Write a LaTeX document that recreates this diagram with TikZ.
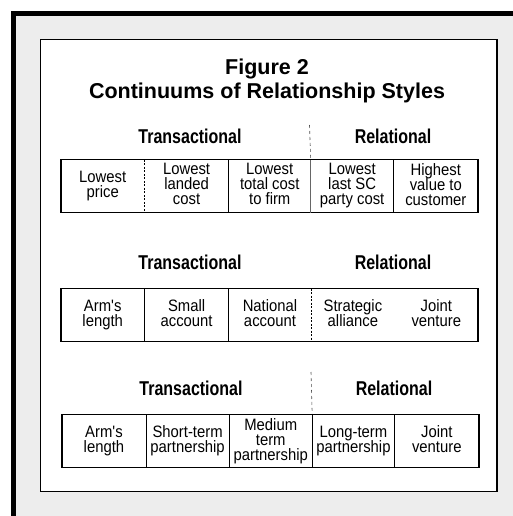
\documentclass[tikz,border=0pt]{standalone}
\usepackage{fontspec}
\setmainfont{Liberation Sans}
\newfontfamily\headfont[FakeStretch=0.8]{Liberation Sans}
\newfontfamily\cellfont[FakeStretch=0.9]{Liberation Sans}
% fixed line pitch and balanced top and bottom extents for every cell text
\newcommand{\celllines}{\lineskiplimit=-20pt\relax\lineskip=0pt\relax}
\newcommand{\celltop}{\rule{0pt}{15.8pt}}
\newcommand{\cellbot}{\rule[-4pt]{0pt}{4pt}}
\begin{document}
\begin{tikzpicture}[x=1pt,y=-1pt,
  cell/.style={inner sep=0pt,minimum height=52.5pt,align=center,
    font=\cellfont\fontsize{16.5}{15}\selectfont,
    execute at begin node=\celllines\celltop, execute at end node=\cellbot},
  headlbl/.style={inner sep=0pt,font=\headfont\bfseries\fontsize{20}{20}\selectfont},
  boxline/.style={line width=1.1pt},
  divline/.style={line width=0.7pt},
  dotdiv/.style={line width=0.6pt,dash pattern=on 2pt off 1.5pt},
  sepline/.style={line width=0.6pt,black!70,dash pattern=on 3pt off 3pt}]
\useasboundingbox (0,0) rectangle (513,516);

% stippled panel and the heavy outer frame
\fill[black!7] (13.5,13.5) rectangle (513,516);
\draw[line width=5pt] (13.5,516) -- (13.5,13.5) -- (513,13.5);
\draw[line width=1.4pt,fill=white] (40.5,39.5) rectangle (497,491.5);

% title
\node[align=center,inner sep=0pt,font=\bfseries\fontsize{21.5}{24}\selectfont]
  (title) at (267,81) {Figure 2\\Continuums of Relationship Styles};

% ---- first continuum: price to value ----
\node[headlbl] (t1) at (190,136) {Transactional};
\node[headlbl] (r1) at (393,136) {Relational};
\coordinate (s1) at (309.5,125);
\node[cell,minimum width=83pt,anchor=west] (a1) at (61,186.25) {Lowest\\price};
\node[cell,minimum width=84pt,anchor=west] (a2) at (a1.east) {Lowest\\landed\\cost};
\node[cell,minimum width=81.5pt,anchor=west] (a3) at (a2.east) {Lowest\\total cost\\to firm};
\node[cell,minimum width=82.5pt,anchor=west] (a4) at (a3.east) {Lowest\\last SC\\party cost};
\node[cell,minimum width=84pt,anchor=west] (a5) at (a4.east) {Highest\\value to\\customer};
\draw[sepline] (s1) -- (a3.north east);
\draw[boxline] (a1.north west) rectangle (a5.south east);
\draw[dotdiv] (a1.north east) -- (a1.south east);
\draw[divline] (a2.north east) -- (a2.south east);
\draw[divline,black!60] (a3.north east) -- (a3.south east);
\draw[divline] (a4.north east) -- (a4.south east);

% ---- second continuum: account types ----
\node[headlbl] (t2) at (190,262) {Transactional};
\node[headlbl] (r2) at (393,262) {Relational};
\node[cell,minimum width=83pt,anchor=west] (b1) at (61,315) {Arm's\\length};
\node[cell,minimum width=84pt,anchor=west] (b2) at (b1.east) {Small\\account};
\node[cell,minimum width=82pt,anchor=west] (b3) at (b2.east) {National\\account};
\node[cell,minimum width=83pt,anchor=west] (b4) at (b3.east) {Strategic\\alliance};
\node[cell,minimum width=83pt,anchor=west] (b5) at (b4.east) {Joint\\venture};
\draw[boxline] (b1.north west) rectangle (b5.south east);
\draw[divline] (b1.north east) -- (b1.south east);
\draw[divline] (b2.north east) -- (b2.south east);
\draw[dotdiv] (b3.north east) -- (b3.south east);

% ---- third continuum: partnership length ----
\node[headlbl] (t3) at (191,388) {Transactional};
\node[headlbl] (r3) at (394,388) {Relational};
\coordinate (s3) at (311,372);
\node[cell,minimum width=83.5pt,anchor=west] (c1) at (62,441.25) {Arm's\\length};
\node[cell,minimum width=83pt,anchor=west] (c2) at (c1.east) {Short-term\\partnership};
\node[cell,minimum width=82.5pt,anchor=west] (c3) at (c2.east) {Medium\\term\\partnership};
\node[cell,minimum width=82pt,anchor=west] (c4) at (c3.east) {Long-term\\partnership};
\node[cell,minimum width=84pt,anchor=west] (c5) at (c4.east) {Joint\\venture};
\draw[sepline] (s3) -- (c3.north east);
\draw[boxline] (c1.north west) rectangle (c5.south east);
\draw[divline] (c1.north east) -- (c1.south east);
\draw[divline] (c2.north east) -- (c2.south east);
\draw[divline] (c3.north east) -- (c3.south east);
\draw[divline] (c4.north east) -- (c4.south east);
\end{tikzpicture}
\end{document}
